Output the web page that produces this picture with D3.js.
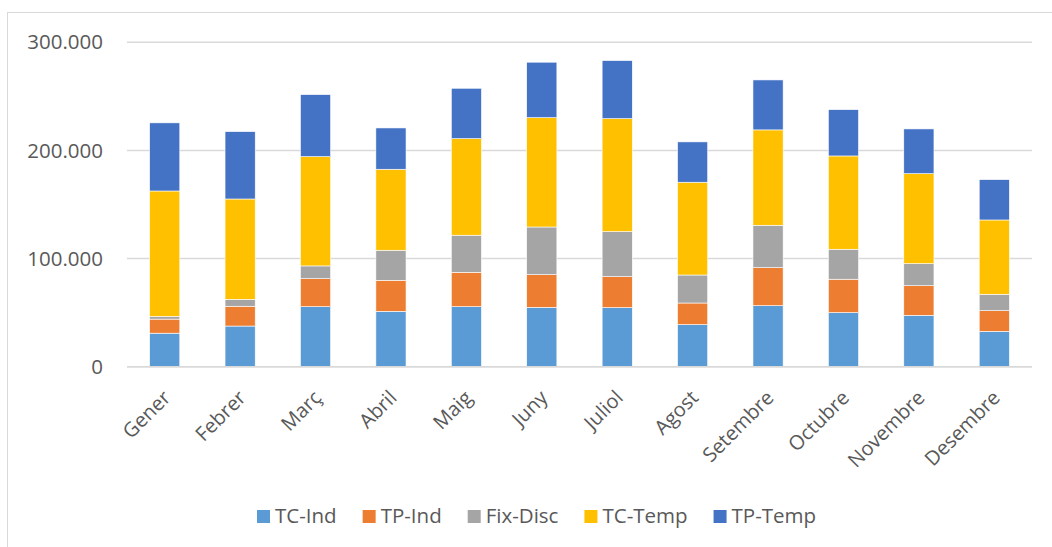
<!DOCTYPE html>
<html>
<head>
<meta charset="utf-8">
<script src="https://cdn.jsdelivr.net/npm/d3@7"></script>
<style>
  html, body { margin: 0; padding: 0; background: #fff; }
  svg { display: block; }
  text { font-family: "Open Sans", "Liberation Sans", sans-serif; fill: #595959; }
</style>
</head>
<body>
<svg id="chart" width="1052" height="547"></svg>
<script>
const months = ["Gener","Febrer","Març","Abril","Maig","Juny","Juliol","Agost","Setembre","Octubre","Novembre","Desembre"];
const seriesNames = ["TC-Ind","TP-Ind","Fix-Disc","TC-Temp","TP-Temp"];
const seriesColors = ["#5B9BD5","#ED7D31","#A5A5A5","#FFC000","#4472C4"];
const tcInd   = [31000, 37600, 55500, 51200, 55500, 54900, 54600, 38900, 56400, 50000, 47500, 32700];
const tpInd   = [13000, 18300, 25900, 28700, 31800, 30200, 28700, 20000, 35200, 30900, 27400, 19100];
const fixDisc = [ 2500,  6400, 11800, 27800, 34300, 44100, 41600, 25900, 39200, 27700, 20400, 15200];
const tcTemp  = [116000, 92800, 101100, 74900, 89300, 101100, 104500, 85800, 88200, 86300, 83200, 68700];
const tpTemp  = [63000, 62300, 57300, 38200, 46600, 51300, 53700, 37300, 46200, 42800, 41400, 37300];
const yTicks  = [0, 100000, 200000, 300000];
const yTickLabels = ["0", "100.000", "200.000", "300.000"];

const seriesValues = [tcInd, tpInd, fixDisc, tcTemp, tpTemp];
const rows = months.map((m, i) => {
  const r = { month: m };
  seriesNames.forEach((s, k) => { r[s] = seriesValues[k][i]; });
  return r;
});

const svg = d3.select("#chart");

// outer chart border (extends off-canvas right/bottom)
svg.append("rect")
  .attr("x", 7.5).attr("y", 12.5)
  .attr("width", 1100).attr("height", 600)
  .attr("fill", "none").attr("stroke", "#d9d9d9").attr("stroke-width", 1);

const x = d3.scaleBand().domain(months).range([127, 1032]).paddingInner(0.6).paddingOuter(0.3);
const y = d3.scaleLinear().domain([0, 300000]).range([366.7, 42.3]);

// gridlines
svg.append("g").selectAll("line").data(yTicks).join("line")
  .attr("x1", 127).attr("x2", 1032)
  .attr("y1", d => y(d)).attr("y2", d => y(d))
  .attr("stroke", "#d9d9d9").attr("stroke-width", 1.5);

// y labels
svg.append("g").selectAll("text").data(yTicks).join("text")
  .attr("x", 103).attr("y", d => y(d))
  .attr("dy", "0.35em")
  .attr("text-anchor", "end")
  .style("font-size", "20.5px")
  .text((d, i) => yTickLabels[i]);

// stacked bars
const stack = d3.stack().keys(seriesNames);
const layers = stack(rows);
svg.append("g").selectAll("g").data(layers).join("g")
  .attr("fill", (d, i) => seriesColors[i])
  .selectAll("rect").data(d => d).join("rect")
  .attr("x", d => x(d.data.month))
  .attr("width", x.bandwidth())
  .attr("y", d => y(d[1]))
  .attr("height", d => y(d[0]) - y(d[1]))
  .attr("stroke", "#ffffff").attr("stroke-width", 0.6);

// x axis baseline
svg.append("line")
  .attr("x1", 127).attr("x2", 1032)
  .attr("y1", y(0)).attr("y2", y(0))
  .attr("stroke", "#d9d9d9").attr("stroke-width", 1.5);

// x labels
svg.append("g").selectAll("text").data(months).join("text")
  .attr("transform", d => `translate(${x(d) + x.bandwidth() / 2 + 7},399) rotate(-45)`)
  .attr("text-anchor", "end")
  .style("font-size", "20px")
  .text(d => d);

// legend
const legend = svg.append("g");
const items = legend.selectAll("g").data(seriesNames).join("g");
items.append("rect").attr("width", 13).attr("height", 13).attr("y", -13)
  .attr("fill", (d, i) => seriesColors[i]);
items.append("text").attr("x", 18).attr("y", 0).attr("dy", "0.02em")
  .style("font-size", "20.5px").text(d => d);
let cx = 0;
const gap = 26;
items.each(function () {
  const w = 18 + this.querySelector("text").getComputedTextLength();
  d3.select(this).attr("transform", `translate(${cx},0)`);
  cx += w + gap;
});
legend.attr("transform", `translate(257,523)`);
</script>
</body>
</html>
